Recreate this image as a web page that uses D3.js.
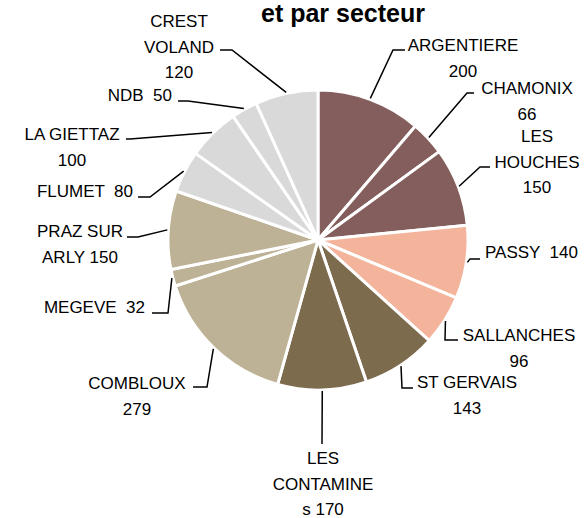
<!DOCTYPE html>
<html lang="fr">
<head>
<meta charset="UTF-8">
<title>et par secteur</title>
<style>
body { margin: 0; background: #fff; font-family: 'Liberation Sans', Arial, sans-serif; }
#chart { width: 584px; height: 518px; }
.title { font-weight: bold; font-size: 25px; fill: #000; }
.label { font-size: 17px; fill: #000; }
.leader { fill: none; stroke: #000; stroke-width: 1.5; }
</style>
</head>
<body>
<div id="chart"></div>
<script src="https://cdnjs.cloudflare.com/ajax/libs/d3/7.8.5/d3.min.js"></script>
<script>

// communes, in the order of the slices (clockwise from 12 o'clock)
var communes = ["ARGENTIERE", "CHAMONIX", "LES HOUCHES", "PASSY", "SALLANCHES",
  "ST GERVAIS", "LES CONTAMINES", "COMBLOUX", "MEGEVE", "PRAZ SUR ARLY",
  "FLUMET", "LA GIETTAZ", "NDB", "CREST VOLAND"];
var values = [200, 66, 150, 140, 96, 143, 170, 279, 32, 150, 80, 100, 50, 120];
var secteurs = ["A", "A", "A", "B", "B", "C", "C", "D", "D", "D", "E", "E", "E", "E"];

// how each label is broken into lines in the original
var labelLines = [
  ["ARGENTIERE", "200"], ["CHAMONIX", "66"], ["LES", "HOUCHES", "150"], ["PASSY  140"],
  ["SALLANCHES", "96"], ["ST GERVAIS", "143"], ["LES", "CONTAMINE", "s 170"],
  ["COMBLOUX", "279"], ["MEGEVE  32"], ["PRAZ SUR", "ARLY 150"], ["FLUMET  80"],
  ["LA GIETTAZ", "100"], ["NDB  50"], ["CREST", "VOLAND", "120"]
];

var width = 584, height = 518;
var cx = 318, cy = 240, radius = 150;
var lineH = 25.5;

// label placement: text x, first baseline, anchor, elbow point, end x of leader
var labelPos = [
  { x: 463, y: 51, a: "middle", ex: 393, ey: 50, lx: 405 },
  { x: 527, y: 94, a: "middle", ex: 467, ey: 93, lx: 474 },
  { x: 537, y: 142, a: "middle", ex: 480, ey: 167, lx: 490 },
  { x: 485, y: 258, a: "start", ex: 470, ey: 259, lx: 480 },
  { x: 519, y: 341, a: "middle", ex: 445, ey: 340, lx: 458 },
  { x: 467, y: 388, a: "middle", ex: 402, ey: 388, lx: 413 },
  { x: 323, y: 464, a: "middle", ex: 322, ey: 444, lx: 322 },
  { x: 137, y: 389, a: "middle", ex: 207, ey: 387, lx: 193 },
  { x: 145, y: 313, a: "end", ex: 168, ey: 313, lx: 152 },
  { x: 80, y: 237, a: "middle", ex: 138, ey: 237, lx: 127 },
  { x: 133, y: 197, a: "end", ex: 150, ey: 197, lx: 138 },
  { x: 72, y: 140, a: "middle", ex: 130, ey: 139, lx: 126 },
  { x: 172, y: 101, a: "end", ex: 188, ey: 101, lx: 178 },
  { x: 179, y: 27, a: "middle", ex: 232, ey: 50, lx: 220 }
];

var data = communes.map(function (c, i) {
  return { commune: c, value: values[i], secteur: secteurs[i], lines: labelLines[i], pos: labelPos[i] };
});

var color = d3.scaleOrdinal()
  .domain(["A", "B", "C", "D", "E"])
  .range(["#845E5C", "#F4B49B", "#7D6B4E", "#BDB295", "#D9D9D9"]);

var svg = d3.select('#chart')
  .append('svg')
  .attr('width', width)
  .attr('height', height);

svg.append('text')
  .attr('class', 'title')
  .attr('x', 343)
  .attr('y', 22)
  .attr('text-anchor', 'middle')
  .text('et par secteur');

var pie = d3.pie()
  .value(function (d) { return d.value; })
  .sort(null);

var arc = d3.arc().innerRadius(0).outerRadius(radius);
var edge = d3.arc().innerRadius(radius + 1).outerRadius(radius + 1);

var g = svg.append('g')
  .attr('transform', 'translate(' + cx + ',' + cy + ')');

var arcs = pie(data);

g.selectAll('path.slice')
  .data(arcs)
  .enter()
  .append('path')
  .attr('class', 'slice')
  .attr('d', arc)
  .attr('fill', function (d) { return color(d.data.secteur); })
  .attr('stroke', '#fff')
  .attr('stroke-width', 3)
  .attr('stroke-linejoin', 'round');

// leader lines
svg.selectAll('path.leader')
  .data(arcs)
  .enter()
  .append('path')
  .attr('class', 'leader')
  .attr('d', function (d) {
    var c = edge.centroid(d);
    var p = d.data.pos;
    return d3.line()([[cx + c[0], cy + c[1]], [p.ex, p.ey], [p.lx, p.ey]]);
  });

// labels
var labels = svg.selectAll('text.label')
  .data(data)
  .enter()
  .append('text')
  .attr('class', 'label')
  .attr('text-anchor', function (d) { return d.pos.a; })
  .attr('x', function (d) { return d.pos.x; })
  .attr('y', function (d) { return d.pos.y; });

labels.selectAll('tspan')
  .data(function (d) { return d.lines.map(function (t) { return { t: t, x: d.pos.x }; }); })
  .enter()
  .append('tspan')
  .attr('x', function (d) { return d.x; })
  .attr('dy', function (d, i) { return i === 0 ? 0 : lineH; })
  .style('white-space', 'pre')
  .text(function (d) { return d.t; });

</script>
</body>
</html>
